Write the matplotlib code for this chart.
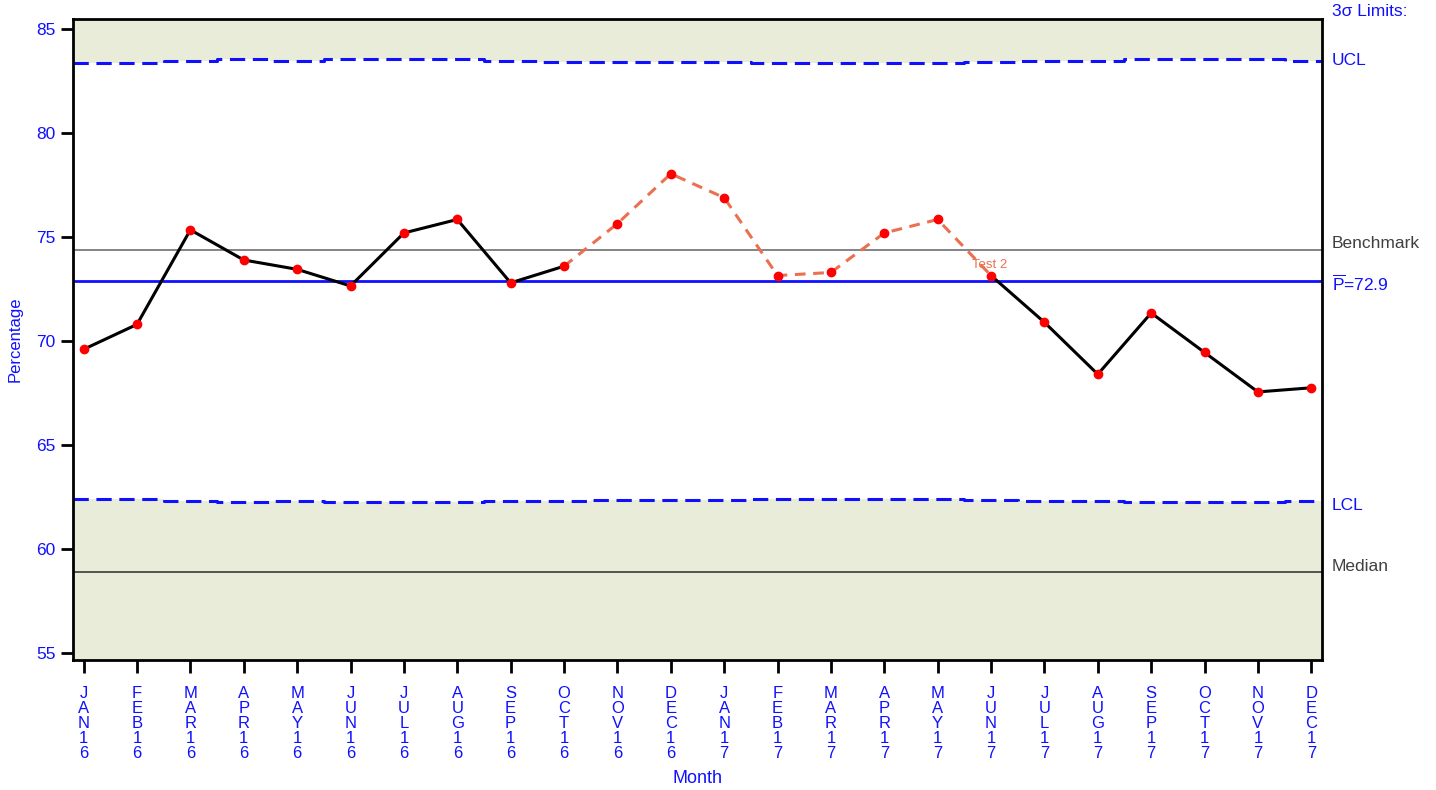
import numpy as np
import matplotlib.pyplot as plt

plt.rcParams['font.family'] = ['Liberation Sans', 'DejaVu Sans']
plt.rcParams['mathtext.fontset'] = 'custom'
plt.rcParams['mathtext.rm'] = 'Liberation Sans'

months = ['JAN16', 'FEB16', 'MAR16', 'APR16', 'MAY16', 'JUN16', 'JUL16', 'AUG16',
          'SEP16', 'OCT16', 'NOV16', 'DEC16', 'JAN17', 'FEB17', 'MAR17', 'APR17',
          'MAY17', 'JUN17', 'JUL17', 'AUG17', 'SEP17', 'OCT17', 'NOV17', 'DEC17']
pct = [69.6, 70.8, 75.35, 73.9, 73.45, 72.65, 75.2, 75.85, 72.8, 73.6, 75.65, 78.05,
       76.9, 73.15, 73.3, 75.2, 75.85, 73.15, 70.9, 68.4, 71.35, 69.45, 67.55, 67.75]
ucl = [83.4, 83.4, 83.5, 83.55, 83.5, 83.55, 83.55, 83.55, 83.5, 83.45, 83.45, 83.45,
       83.45, 83.4, 83.4, 83.4, 83.4, 83.45, 83.5, 83.5, 83.55, 83.55, 83.55, 83.5]
lcl = [62.4, 62.4, 62.3, 62.25, 62.3, 62.25, 62.25, 62.25, 62.3, 62.3, 62.35, 62.35,
       62.35, 62.4, 62.4, 62.4, 62.4, 62.35, 62.3, 62.3, 62.25, 62.25, 62.25, 62.3]
pbar = 72.9
benchmark = 74.4
median = 58.9
test_start, test_end = 9, 17  # flagged run (Test 2)

blue = '#1010ff'
shade = '#e8ecd8'
ymin, ymax = 54.65, 85.5

fig = plt.figure(figsize=(14.36, 7.9), dpi=100)
ax = fig.add_axes([0.0508, 0.1646, 0.8698, 0.8114])

x = np.arange(len(months))
xe = np.concatenate([[-0.2], x, [len(months) - 0.8]])
ucl_e = np.concatenate([[ucl[0]], ucl, [ucl[-1]]])
lcl_e = np.concatenate([[lcl[0]], lcl, [lcl[-1]]])

ax.fill_between(xe, ucl_e, ymax, color=shade, step='mid', lw=0)
ax.fill_between(xe, ymin, lcl_e, color=shade, step='mid', lw=0)
ax.plot(xe, ucl_e, '--', color=blue, lw=2.2, drawstyle='steps-mid', dashes=(5, 2.5))
ax.plot(xe, lcl_e, '--', color=blue, lw=2.2, drawstyle='steps-mid', dashes=(5, 2.5))
ax.axhline(pbar, color=blue, lw=2)
ax.axhline(benchmark, color='#707070', lw=1.2)
ax.axhline(median, color='#3a3a3a', lw=1.2)

ax.plot(x[:test_start + 1], pct[:test_start + 1], color='black', lw=2.2)
ax.plot(x[test_start:test_end + 1], pct[test_start:test_end + 1], '--',
        color='#ea7050', lw=2.2, dashes=(3.5, 2.5))
ax.plot(x[test_end:], pct[test_end:], color='black', lw=2.2)
ax.plot(x, pct, 'o', color='#ff0000', ms=6, zorder=5)
ax.text(x[test_end] - 0.03, pct[test_end] + 0.2, 'Test 2', color='#ea7050',
        fontsize=9.5, ha='center', va='bottom')

ax.set_xlim(-0.2, len(months) - 0.8)
ax.set_ylim(ymin, ymax)
ax.set_yticks([55, 60, 65, 70, 75, 80, 85])
ax.set_xticks(x)
ax.set_xticklabels(['\n'.join(m) for m in months], linespacing=1.0)
ax.tick_params(axis='both', colors='black', labelcolor=blue, labelsize=12.5,
               width=2, length=9, direction='out')
ax.tick_params(axis='x', labelsize=12, pad=10)
for s in ax.spines.values():
    s.set_linewidth(2)

ax.set_ylabel('Percentage', color=blue, fontsize=12, labelpad=10)
ax.set_xlabel('Month', color=blue, fontsize=13, labelpad=6)

tr = ax.get_yaxis_transform()
ax.text(1.008, 1.011, '3σ Limits:', transform=ax.transAxes, color=blue,
        fontsize=12.5, va='center', ha='left')
ax.text(1.008, ucl[-1], 'UCL', transform=tr, color=blue, fontsize=12.5, va='center')
ax.text(1.008, benchmark + 0.3, 'Benchmark', transform=tr, color='#404040',
        fontsize=12.5, va='center')
ax.text(1.008, pbar - 0.15, r'$\overline{\mathrm{P}}$=72.9', transform=tr,
        color=blue, fontsize=12.5, va='center')
ax.text(1.008, lcl[-1] - 0.2, 'LCL', transform=tr, color=blue, fontsize=12.5, va='center')
ax.text(1.008, median + 0.25, 'Median', transform=tr, color='#404040',
        fontsize=12.5, va='center')

fig.savefig('out.png', dpi=100)
